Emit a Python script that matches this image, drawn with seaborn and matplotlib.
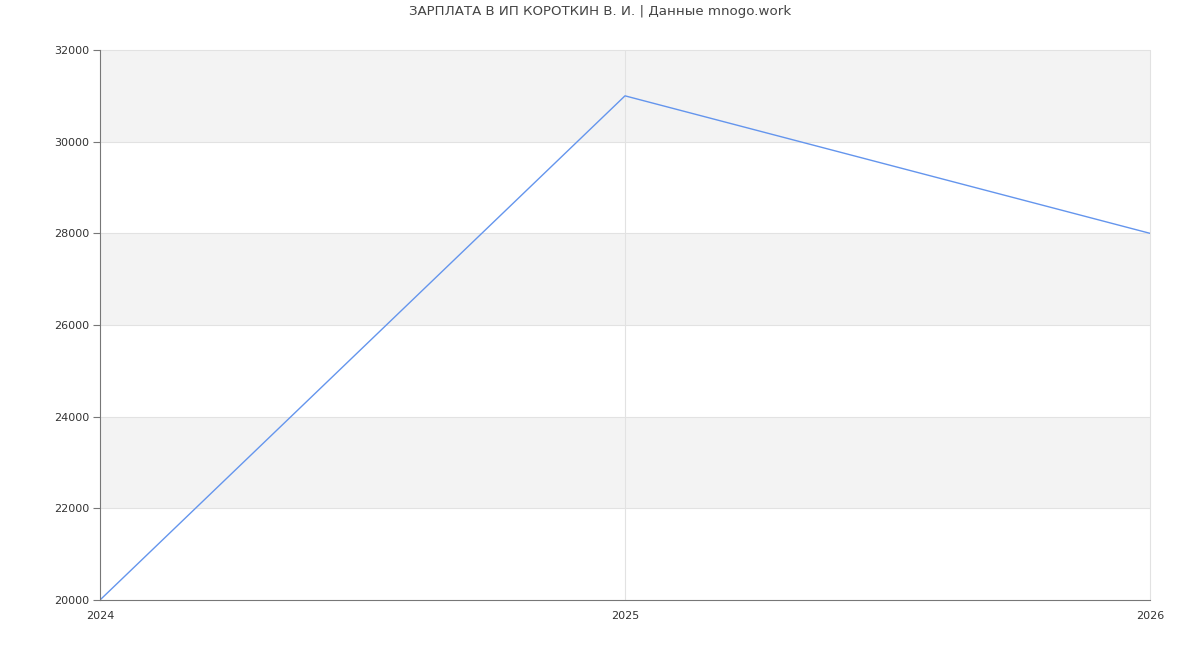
import matplotlib

matplotlib.use("Agg", force=True)
import matplotlib.pyplot as plt
import pandas as pd
import seaborn as sns

years = [2024, 2025, 2026]
salary = [20000, 31000, 28000]
y_ticks = [20000, 22000, 24000, 26000, 28000, 30000, 32000]
title = "ЗАРПЛАТА В ИП КОРОТКИН В. И. | Данные mnogo.work"


def main() -> None:
    sns.set_theme(style="white")
    plt.rcParams["font.family"] = ["DejaVu Sans"]
    df = pd.DataFrame({"year": years, "salary": salary})

    fig = plt.figure(figsize=(12, 6.5), dpi=100)
    ax = fig.add_axes([100 / 1200, 50 / 650, 1050 / 1200, 550 / 650])

    # alternating bands
    for i in range(len(y_ticks) - 1):
        if i % 2 == 1:
            ax.axhspan(y_ticks[i], y_ticks[i + 1], color="#f3f3f3", zorder=0, lw=0)
    for y in y_ticks[1:]:
        ax.axhline(y, color="#e2e2e2", lw=0.8, zorder=1, clip_on=False)
    for x in years[1:]:
        ax.axvline(x, color="#e2e2e2", lw=0.8, zorder=1, clip_on=False)

    sns.lineplot(data=df, x="year", y="salary", color="#6495ed", lw=1.0, ax=ax, zorder=3)

    ax.set_xlim(years[0], years[-1])
    ax.set_ylim(y_ticks[0], y_ticks[-1])
    ax.set_xticks(years)
    ax.set_xticklabels([str(y) for y in years])
    ax.set_yticks(y_ticks)
    ax.set_yticklabels([str(y) for y in y_ticks])
    ax.set_xlabel("")
    ax.set_ylabel("")
    ax.tick_params(axis="x", length=0, pad=8, labelsize=8, colors="#333333")
    ax.tick_params(axis="y", length=5, width=0.8, color="#777777", pad=3, labelsize=8, labelcolor="#333333", left=True)
    for side in ["top", "right"]:
        ax.spines[side].set_visible(False)
    for side in ["left", "bottom"]:
        ax.spines[side].set_color("#777777")
        ax.spines[side].set_linewidth(0.8)
        ax.spines[side].set_zorder(4)

    fig.text(0.5, 1 - 12 / 650, title, ha="center", va="center", fontsize=9.6, color="#444444")
    fig.savefig("out.png")


if __name__ == "__main__":
    main()
